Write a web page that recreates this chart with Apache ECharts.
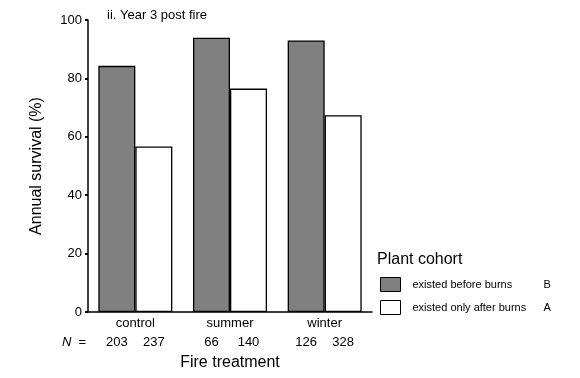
<!DOCTYPE html>
<html>
<head>
<meta charset="utf-8">
<script src="https://cdn.jsdelivr.net/npm/echarts@6/dist/echarts.min.js"></script>
<style>
  html, body { margin: 0; padding: 0; background: #fff; }
  #main { width: 580px; height: 378px; }
</style>
</head>
<body>
<div id="main"></div>
<script>
// data
var treatments = ['control', 'summer', 'winter'];
var beforeBurns = [84.3, 93.9, 93.0];
var afterBurns = [56.7, 76.5, 67.4];
var nBefore = [203, 66, 126];
var nAfter = [237, 140, 328];
var seriesNames = ['existed before burns', 'existed only after burns'];
var groupLetters = ['B', 'A'];

var font = 'Arial, "Liberation Sans", sans-serif';
var chart = echarts.init(document.getElementById('main'));

var option = {
    animation: false,
    textStyle: { fontFamily: font, color: '#000' },
    title: [
        {
            text: 'ii. Year 3 post fire',
            left: 102,
            top: 4,
            textStyle: { fontFamily: font, fontSize: 13, fontWeight: 'normal', color: '#000' }
        },
        {
            text: 'Plant cohort',
            left: 372,
            top: 247,
            textStyle: { fontFamily: font, fontSize: 16, fontWeight: 'normal', color: '#000' }
        }
    ],
    legend: {
        orient: 'vertical',
        left: 375,
        top: 272,
        itemWidth: 20,
        itemHeight: 14,
        itemGap: 8,
        icon: 'rect',
        selectedMode: false,
        data: [
            { name: seriesNames[0], itemStyle: { color: '#808080', borderColor: '#000', borderWidth: 1 } },
            { name: seriesNames[1], itemStyle: { color: '#fff', borderColor: '#000', borderWidth: 1 } }
        ],
        formatter: function (name) {
            var i = seriesNames.indexOf(name);
            return '{n|' + name + '}{l|' + groupLetters[i] + '}';
        },
        textStyle: {
            fontFamily: font,
            fontSize: 11,
            color: '#000',
            padding: [0, 0, 0, 7],
            rich: {
                n: { width: 131, fontSize: 11, fontFamily: font, color: '#000' },
                l: { fontSize: 11, fontFamily: font, color: '#000' }
            }
        }
    },
    grid: { left: 88, top: 20, width: 284, height: 292 },
    xAxis: {
        type: 'category',
        data: treatments,
        name: 'Fire treatment',
        nameLocation: 'middle',
        nameGap: 43,
        nameTextStyle: { fontFamily: font, fontSize: 16, color: '#000' },
        axisLine: { lineStyle: { color: '#000', width: 1.5 } },
        axisTick: { alignWithLabel: true, length: 3, lineStyle: { color: '#000', width: 2 } },
        axisLabel: { fontFamily: font, fontSize: 13, color: '#000', margin: 5 }
    },
    yAxis: {
        type: 'value',
        min: 0,
        max: 100,
        interval: 20,
        name: 'Annual survival (%)',
        nameLocation: 'middle',
        nameGap: 43,
        nameTextStyle: { fontFamily: font, fontSize: 16, color: '#000' },
        splitLine: { show: false },
        axisLine: { show: true, lineStyle: { color: '#000', width: 1.5 } },
        axisTick: { show: true, length: 3, lineStyle: { color: '#000', width: 2 } },
        axisLabel: { fontFamily: font, fontSize: 13, color: '#000', margin: 6 }
    },
    graphic: [
        {
            type: 'text',
            left: 62,
            top: 336,
            style: {
                text: '{i|N}  =',
                font: '13px ' + font,
                fill: '#000',
                rich: { i: { fontStyle: 'italic', fontSize: 13, fontFamily: font } }
            }
        }
    ],
    series: [
        {
            name: seriesNames[0],
            type: 'bar',
            data: beforeBurns,
            barWidth: 37,
            barGap: '0%',
            itemStyle: { color: '#808080', borderColor: '#000', borderWidth: 1.3 },
            label: {
                show: true,
                position: 'bottom',
                distance: 24,
                fontFamily: font,
                fontSize: 13,
                color: '#000',
                formatter: function (p) { return nBefore[p.dataIndex]; }
            }
        },
        {
            name: seriesNames[1],
            type: 'bar',
            data: afterBurns,
            barWidth: 37,
            barGap: '0%',
            itemStyle: { color: '#fff', borderColor: '#000', borderWidth: 1.3 },
            label: {
                show: true,
                position: 'bottom',
                distance: 24,
                fontFamily: font,
                fontSize: 13,
                color: '#000',
                formatter: function (p) { return nAfter[p.dataIndex]; }
            }
        }
    ]
};

chart.setOption(option);
</script>
</body>
</html>
